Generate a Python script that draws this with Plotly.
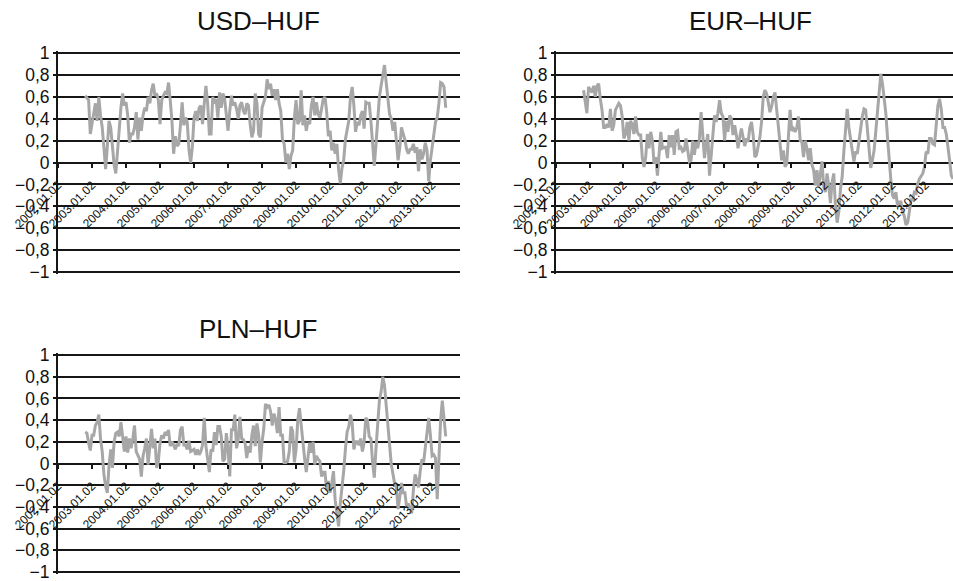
import plotly.graph_objects as go

# ---------------- data ----------------
STEP = 0.05  # years between readings
USD_START = 2002.80
EUR_START = 2002.82
PLN_START = 2002.80

USD_HUF = [
    0.61, 0.59, 0.57, 0.26, 0.35, 0.44, 0.54, 0.38, 0.60, 0.43,
    0.32, 0.14, -0.06, 0.14, 0.38, 0.32, 0.14, -0.02, -0.10, 0.11,
    0.32, 0.50, 0.63, 0.52, 0.55, 0.43, 0.18, 0.26, 0.26, 0.32,
    0.46, 0.21, 0.41, 0.29, 0.43, 0.50, 0.47, 0.60, 0.54, 0.66,
    0.72, 0.61, 0.63, 0.57, 0.35, 0.57, 0.61, 0.64, 0.63, 0.73,
    0.57, 0.38, 0.08, 0.24, 0.15, 0.17, 0.34, 0.55, 0.34, 0.41,
    0.37, 0.12, 0.00, 0.14, 0.41, 0.47, 0.38, 0.50, 0.52, 0.35,
    0.54, 0.70, 0.54, 0.26, 0.26, 0.60, 0.54, 0.58, 0.41, 0.64,
    0.50, 0.63, 0.58, 0.44, 0.29, 0.47, 0.61, 0.52, 0.55, 0.49,
    0.40, 0.52, 0.55, 0.47, 0.44, 0.54, 0.52, 0.35, 0.23, 0.29,
    0.63, 0.54, 0.26, 0.23, 0.50, 0.55, 0.60, 0.76, 0.67, 0.72,
    0.61, 0.67, 0.57, 0.67, 0.54, 0.47, 0.21, 0.17, 0.00, 0.08,
    -0.06, 0.06, 0.11, 0.41, 0.57, 0.35, 0.38, 0.66, 0.34, 0.43,
    0.29, 0.38, 0.35, 0.52, 0.60, 0.43, 0.55, 0.44, 0.41, 0.49,
    0.58, 0.60, 0.46, 0.24, 0.29, 0.11, 0.18, 0.08, 0.17, -0.06,
    -0.19, -0.05, 0.02, 0.21, 0.31, 0.38, 0.60, 0.69, 0.52, 0.28,
    0.37, 0.34, 0.43, 0.47, 0.31, 0.55, 0.54, 0.54, 0.38, 0.20,
    -0.03, 0.17, 0.41, 0.60, 0.70, 0.81, 0.89, 0.73, 0.55, 0.44,
    0.40, 0.29, 0.37, 0.20, 0.02, 0.14, 0.32, 0.26, 0.21, 0.12,
    0.08, 0.12, 0.12, 0.17, 0.09, 0.14, -0.08, 0.12, 0.03, 0.08,
    0.18, 0.11, -0.17, 0.02, 0.14, 0.24, 0.37, 0.41, 0.54, 0.73,
    0.72, 0.69, 0.50,
]

EUR_HUF = [
    0.66, 0.57, 0.45, 0.69, 0.67, 0.64, 0.70, 0.60, 0.70, 0.72,
    0.58, 0.48, 0.32, 0.32, 0.35, 0.32, 0.49, 0.29, 0.34, 0.48,
    0.51, 0.54, 0.52, 0.42, 0.22, 0.26, 0.37, 0.20, 0.38, 0.35,
    0.26, 0.42, 0.28, 0.25, 0.25, 0.04, -0.04, 0.05, 0.26, 0.13,
    0.28, 0.20, -0.01, 0.05, -0.12, 0.05, 0.28, 0.13, 0.14, 0.14,
    0.04, 0.25, 0.14, 0.25, 0.07, 0.28, 0.29, 0.13, 0.14, 0.10,
    0.11, 0.22, 0.11, 0.01, 0.02, 0.20, 0.07, 0.19, 0.13, 0.22,
    0.46, 0.25, 0.04, 0.16, 0.26, -0.12, 0.07, 0.22, 0.43, 0.37,
    0.45, 0.57, 0.45, 0.42, 0.20, 0.38, 0.28, 0.43, 0.40, 0.25,
    0.34, 0.25, 0.13, 0.23, 0.31, 0.23, 0.15, 0.22, 0.19, 0.32,
    0.37, 0.25, 0.05, 0.07, 0.14, 0.23, 0.37, 0.60, 0.66, 0.63,
    0.55, 0.46, 0.51, 0.60, 0.64, 0.49, 0.29, 0.17, 0.02, 0.11,
    -0.04, -0.01, 0.28, 0.48, 0.29, 0.31, 0.28, 0.32, 0.42, 0.20,
    0.19, 0.05, 0.20, 0.13, 0.02, 0.13, -0.02, -0.07, -0.21, -0.07,
    -0.22, -0.08, 0.01, -0.22, -0.27, -0.10, -0.21, -0.37, -0.18, -0.10,
    -0.40, -0.55, -0.45, -0.24, -0.13, 0.10, 0.29, 0.49, 0.32, 0.19,
    0.11, 0.01, 0.10, 0.08, 0.20, 0.31, 0.42, 0.49, 0.48, 0.31,
    0.14, -0.05, 0.02, 0.11, 0.28, 0.46, 0.63, 0.81, 0.72, 0.60,
    0.45, 0.23, 0.02, -0.16, -0.30, -0.33, -0.27, -0.40, -0.36, -0.36,
    -0.45, -0.49, -0.57, -0.55, -0.45, -0.34, -0.34, -0.27, -0.28, -0.19,
    -0.15, -0.12, -0.10, -0.04, 0.10, 0.08, 0.22, 0.22, 0.17, 0.16,
    0.35, 0.52, 0.58, 0.49, 0.32, 0.32, 0.26, 0.16, 0.02, -0.12,
    -0.15,
]

PLN_HUF = [
    0.29, 0.28, 0.19, 0.12, 0.26, 0.26, 0.35, 0.38, 0.45, 0.23,
    0.11, -0.10, -0.21, -0.27, -0.02, 0.13, -0.04, 0.20, 0.28, 0.29,
    0.25, 0.38, 0.25, 0.11, 0.25, 0.10, 0.23, 0.14, 0.23, 0.35,
    0.11, 0.08, 0.04, -0.12, 0.07, 0.14, 0.23, -0.01, 0.14, 0.32,
    0.14, 0.23, -0.04, 0.02, 0.19, 0.26, 0.23, 0.29, 0.26, 0.31,
    0.16, 0.20, 0.17, 0.13, 0.18, 0.16, 0.31, 0.34, 0.17, 0.17,
    0.13, 0.21, 0.11, 0.12, 0.13, 0.08, 0.13, 0.08, 0.11, 0.17,
    0.42, 0.16, 0.01, -0.08, 0.13, 0.11, 0.29, 0.17, 0.34, 0.34,
    0.25, 0.02, 0.04, 0.28, 0.13, -0.12, 0.31, 0.31, 0.45, 0.14,
    0.22, 0.43, 0.23, 0.22, 0.19, 0.05, 0.16, 0.10, 0.26, 0.35,
    0.16, 0.37, 0.26, 0.01, 0.20, 0.32, 0.55, 0.52, 0.54, 0.48,
    0.35, 0.46, 0.40, 0.28, 0.52, 0.26, 0.26, 0.01, 0.01, 0.02,
    0.11, 0.34, 0.30, 0.01, 0.13, 0.40, 0.51, 0.34, 0.16, 0.05,
    -0.08, 0.08, 0.19, 0.10, 0.20, -0.01, 0.07, 0.04, 0.02, -0.12,
    -0.08, -0.08, -0.25, -0.16, -0.27, -0.18, -0.07, -0.34, -0.45, -0.58,
    -0.37, -0.24, -0.07, 0.13, 0.29, 0.34, 0.45, 0.37, 0.13, 0.20,
    0.20, 0.17, 0.23, 0.11, 0.19, 0.42, 0.40, 0.25, 0.23, 0.01,
    -0.13, 0.14, 0.42, 0.58, 0.66, 0.80, 0.72, 0.52, 0.34, 0.17,
    -0.01, -0.10, -0.19, -0.22, -0.42, -0.31, -0.18, -0.27, -0.27, -0.40,
    -0.37, -0.41, -0.46, -0.24, -0.10, -0.15, -0.22, -0.07, 0.04, 0.01,
    0.17, 0.31, 0.42, 0.26, 0.07, 0.08, 0.05, -0.33, 0.01, 0.40,
    0.58, 0.38, 0.25,
]

X_TICK_YEARS = list(range(2002, 2014))
X_TICK_LABELS = ["2002.01.02", "2003.01.02", "2004.01.02", "2005.01.02",
                 "2006.01.02", "2007.01.02", "2008.01.02", "2009.01.02",
                 "2010.01.02", "2011.01.02", "2012.01.02", "2013.01.02"]
Y_TICKS = [1, 0.8, 0.6, 0.4, 0.2, 0, -0.2, -0.4, -0.6, -0.8, -1]
Y_TICK_LABELS = ["1", "0,8", "0,6", "0,4", "0,2", "0",
                 "−0,2", "−0,4", "−0,6", "−0,8", "−1"]
TITLES = ["USD–HUF", "EUR–HUF", "PLN–HUF"]
X_RANGE = [2002.0, 2013.82]
Y_PAD = 0.02

# ---------------- layout geometry (pixels) ----------------
W, H = 953, 581
PANELS = [
    dict(x0=58, x1=460, top=53, bottom=272, title_x=258, title_y=21),
    dict(x0=556, x1=953, top=53, bottom=272, title_x=750, title_y=21),
    dict(x0=58, x1=460, top=355, bottom=572, title_x=258, title_y=329),
]
SERIES = [(USD_START, USD_HUF), (EUR_START, EUR_HUF), (PLN_START, PLN_HUF)]

LINE_COLOR = "#a7a7a7"
INK = "#161616"
FONT = "Liberation Sans, Arial, sans-serif"

fig = go.Figure()
layout = dict(
    width=W, height=H,
    margin=dict(l=0, r=0, t=0, b=0, pad=0),
    paper_bgcolor="white", plot_bgcolor="white",
    showlegend=False,
    font=dict(family=FONT, color="#111"),
    annotations=[],
)

for i, (panel, (start, vals)) in enumerate(zip(PANELS, SERIES)):
    n = i + 1
    xa = "xaxis" if n == 1 else f"xaxis{n}"
    ya = "yaxis" if n == 1 else f"yaxis{n}"
    xs = [start + STEP * k for k in range(len(vals))]
    fig.add_trace(go.Scatter(
        x=xs, y=vals, mode="lines",
        line=dict(color=LINE_COLOR, width=3),
        xaxis=f"x{n}", yaxis=f"y{n}", hoverinfo="skip",
    ))
    half = (panel["bottom"] - panel["top"]) / 2
    pad_px = half * Y_PAD
    top_px = panel["top"] - pad_px
    bot_px = panel["bottom"] + pad_px
    y_dom = [1 - bot_px / H, 1 - top_px / H]
    zero_pos = (y_dom[0] + y_dom[1]) / 2
    layout[xa] = dict(
        domain=[panel["x0"] / W, panel["x1"] / W],
        range=X_RANGE, anchor="free", position=zero_pos,
        tickmode="array", tickvals=X_TICK_YEARS, ticktext=X_TICK_LABELS,
        tickangle=-45, ticks="outside", ticklen=4, tickwidth=2, tickcolor=INK,
        ticklabelstandoff=6, ticklabeloverflow="allow",
        tickfont=dict(size=12, color="#111"),
        showgrid=False, zeroline=False, showline=False, automargin=False,
    )
    layout[ya] = dict(
        domain=y_dom, range=[-1 - Y_PAD, 1 + Y_PAD], anchor=f"x{n}",
        tickmode="array", tickvals=Y_TICKS, ticktext=Y_TICK_LABELS,
        ticks="outside", ticklen=3, tickwidth=2, tickcolor=INK,
        ticklabeloverflow="allow",
        tickfont=dict(size=17.5, color="#111"),
        showgrid=True, gridcolor=INK, gridwidth=2,
        zeroline=True, zerolinecolor=INK, zerolinewidth=2,
        showline=True, linecolor=INK, linewidth=2, automargin=False,
    )
    layout["annotations"].append(dict(
        text=TITLES[i], xref="paper", yref="paper",
        x=panel["title_x"] / W, y=1 - panel["title_y"] / H,
        xanchor="center", yanchor="middle", showarrow=False,
        font=dict(size=26, color="#111"),
    ))

fig.update_layout(**layout)
fig.write_html("out.html")
